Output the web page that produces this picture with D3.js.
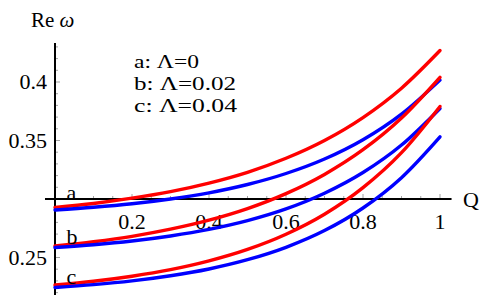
<!DOCTYPE html>
<html>
<head>
<meta charset="utf-8">
<script src="https://cdn.jsdelivr.net/npm/d3@7"></script>
<style>
html,body{margin:0;padding:0;background:#fff;}
svg{display:block;}
</style>
</head>
<body>
<svg id="chart" width="484" height="299"></svg>
<script>
// ---- data ----
const qValues = [0, 0.1, 0.2, 0.3, 0.4, 0.5, 0.6, 0.7, 0.8, 0.9, 1];
const redA  = [0.2928, 0.2962, 0.3007, 0.3063, 0.3136, 0.3228, 0.3348, 0.3500, 0.3696, 0.3947, 0.4269];
const blueA = [0.2906, 0.2929, 0.2959, 0.3000, 0.3053, 0.3124, 0.3218, 0.3342, 0.3507, 0.3726, 0.4016];
const redB  = [0.2598, 0.2635, 0.2681, 0.2742, 0.2819, 0.2918, 0.3046, 0.3210, 0.3421, 0.3692, 0.4040];
const blueB = [0.2585, 0.2609, 0.2641, 0.2684, 0.2740, 0.2815, 0.2915, 0.3049, 0.3226, 0.3461, 0.3774];
const redC  = [0.2265, 0.2297, 0.2340, 0.2396, 0.2471, 0.2569, 0.2699, 0.2870, 0.3097, 0.3396, 0.3791];
const blueC = [0.2244, 0.2268, 0.2300, 0.2344, 0.2402, 0.2481, 0.2587, 0.2730, 0.2923, 0.3182, 0.3531];
const xTicks = [0.2, 0.4, 0.6, 0.8, 1];
const xTickLabels = ["0.2", "0.4", "0.6", "0.8", "1"];
const yTicks = [0.25, 0.35, 0.4];
const yTickLabels = ["0.25", "0.35", "0.4"];
const curveLabels = ["a", "b", "c"];
const legendLines = ["a: \u039B=0", "b: \u039B=0.02", "c: \u039B=0.04"];

const series = [
  {values: redA, color: "#ff0000"},
  {values: blueA, color: "#0000ff"},
  {values: redB, color: "#ff0000"},
  {values: blueB, color: "#0000ff"},
  {values: redC, color: "#ff0000"},
  {values: blueC, color: "#0000ff"}
];

const FONT = "'Liberation Serif', 'Times New Roman', Times, 'DejaVu Serif', serif";

// ---- scales ----
const x = d3.scaleLinear().domain([0, 1]).range([55, 440]);
const y = d3.scaleLinear().domain([0.3, 0.4]).range([199, 82]);
const yCross = 0.3;

const svg = d3.select("#chart");

// ---- minor / major ticks ----
const tickG = svg.append("g");
const xMinor = d3.range(0, 1.0001, 0.05).filter(v => v > 0.001);
tickG.selectAll("line.xmin").data(xMinor).join("line")
  .attr("x1", d => x(d)).attr("x2", d => x(d))
  .attr("y1", y(yCross)).attr("y2", d => y(yCross) - (xTicks.some(t => Math.abs(t - d) < 1e-6) ? 5 : 3))
  .attr("stroke", "#666").attr("stroke-width", 0.6);
const yMinor = d3.range(0.22, 0.4301, 0.01);
tickG.selectAll("line.ymin").data(yMinor).join("line")
  .attr("x1", x(0)).attr("x2", d => x(0) + ((Math.round(d * 100) % 5 === 0) ? 5 : 3))
  .attr("y1", d => y(d)).attr("y2", d => y(d))
  .attr("stroke", "#666").attr("stroke-width", 0.6);

// ---- axes lines ----
svg.append("line")
  .attr("x1", x(-0.026)).attr("x2", x(1.03))
  .attr("y1", y(yCross)).attr("y2", y(yCross))
  .attr("stroke", "#000").attr("stroke-width", 2);
svg.append("line")
  .attr("x1", x(0)).attr("x2", x(0))
  .attr("y1", y(0.4333)).attr("y2", y(0.218))
  .attr("stroke", "#000").attr("stroke-width", 2);

// ---- tick labels ----
svg.selectAll("text.xt").data(xTicks).join("text")
  .attr("font-family", FONT)
  .attr("x", d => x(d)).attr("y", 229)
  .attr("text-anchor", "middle").attr("font-size", 22)
  .text((d, i) => xTickLabels[i]);
svg.selectAll("text.yt").data(yTicks).join("text")
  .attr("font-family", FONT)
  .attr("x", 47).attr("y", d => y(d) + 7)
  .attr("text-anchor", "end").attr("font-size", 22)
  .text((d, i) => yTickLabels[i]);

// ---- axis labels ----
const yl = svg.append("text").attr("font-family", FONT)
  .attr("x", 31).attr("y", 27).attr("font-size", 21);
yl.append("tspan").text("Re ");
yl.append("tspan").attr("font-style", "italic").text("\u03C9");
svg.append("text").attr("font-family", FONT)
  .attr("x", 463).attr("y", 207).attr("font-size", 22).text("Q");

// ---- curves ----
const line = d3.line()
  .x((d, i) => x(qValues[i]))
  .y(d => y(d))
  .curve(d3.curveMonotoneX);
svg.append("g").selectAll("path").data(series).join("path")
  .attr("d", s => line(s.values))
  .attr("fill", "none")
  .attr("stroke", s => s.color)
  .attr("stroke-width", 3.4)
  .attr("stroke-linecap", "round");

// ---- curve labels ----
const labelStarts = [blueA[0], blueB[0], blueC[0]];
svg.selectAll("text.cl").data(curveLabels).join("text")
  .attr("font-family", FONT)
  .attr("x", x(0.03)).attr("y", (d, i) => y(labelStarts[i]) - [10, 4, 3][i])
  .attr("font-size", 22)
  .text(d => d);

// ---- legend ----
const legendWidths = [65, 102, 103];
svg.selectAll("text.lg").data(legendLines).join("text")
  .attr("font-family", FONT)
  .attr("x", 134).attr("y", (d, i) => 68 + i * 22)
  .attr("font-size", 19.5)
  .attr("textLength", (d, i) => legendWidths[i])
  .attr("lengthAdjust", "spacingAndGlyphs")
  .text(d => d);
</script>
</body>
</html>
